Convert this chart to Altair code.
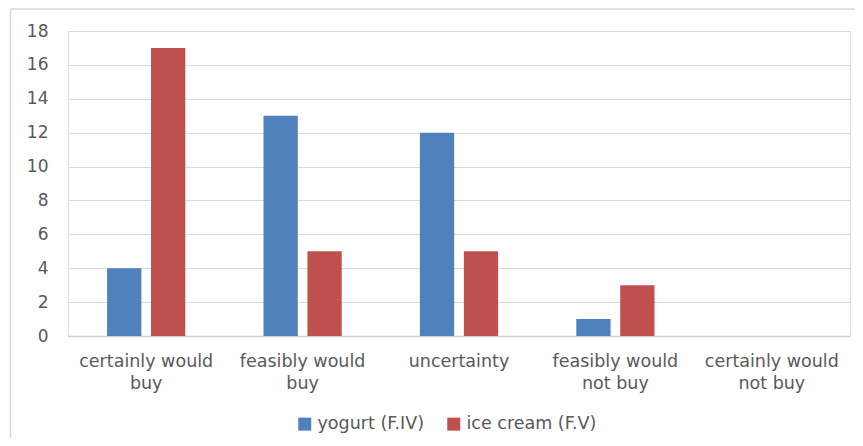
import altair as alt
import pandas as pd

categories = ["certainly would buy", "feasibly would buy", "uncertainty",
              "feasibly would not buy", "certainly would not buy"]
wrapped = [["certainly would", "buy"], ["feasibly would", "buy"], ["uncertainty"],
           ["feasibly would", "not buy"], ["certainly would", "not buy"]]
series = ["yogurt (F.IV)", "ice cream (F.V)"]
yogurt = [4, 13, 12, 1, 0]
ice_cream = [17, 5, 5, 3, 0]
colors = ["#4f81bd", "#c0504d"]

rows = []
for c, a, b in zip(categories, yogurt, ice_cream):
    rows.append({"category": c, "series": series[0], "value": a})
    rows.append({"category": c, "series": series[1], "value": b})
df = pd.DataFrame(rows)

label_map = "{" + ",".join(
    "'%s': [%s]" % (c, ",".join("'%s'" % p for p in w)) for c, w in zip(categories, wrapped)
) + "}"

FONT = "DejaVu Sans"
TXT = "#595959"

bars = alt.Chart(df).mark_bar().encode(
    x=alt.X("category:N", sort=categories,
            scale=alt.Scale(paddingInner=0.5, paddingOuter=0.25),
            axis=alt.Axis(title=None, labelAngle=0, ticks=False, domain=True,
                          domainColor="#d0d0d0", domainWidth=1.5,
                          labelExpr=label_map + "[datum.value]",
                          labelFont=FONT, labelFontSize=17.5, labelColor=TXT,
                          labelPadding=16, labelLineHeight=22, labelBaseline="top")),
    xOffset=alt.XOffset("series:N", sort=series,
                        scale=alt.Scale(paddingInner=0.22, paddingOuter=0)),
    y=alt.Y("value:Q", scale=alt.Scale(domain=[0, 18]),
            axis=alt.Axis(title=None, values=list(range(0, 19, 2)), ticks=False,
                          domain=False, grid=True, gridColor="#d9d9d9", gridWidth=1,
                          labelFont=FONT, labelFontSize=17, labelColor=TXT,
                          labelPadding=20)),
    color=alt.Color("series:N", sort=series,
                    scale=alt.Scale(domain=series, range=colors),
                    legend=alt.Legend(title=None, orient="none", direction="horizontal",
                                      legendX=228, legendY=384,
                                      symbolType="square", symbolSize=169,
                                      symbolStrokeWidth=0,
                                      labelFont=FONT, labelFontSize=17.5, labelColor=TXT,
                                      columnPadding=21, labelOffset=4)),
)

edge = pd.DataFrame({"a": [0]})
top_border = alt.Chart(edge).mark_rule(color="#d9d9d9", strokeWidth=1.5, clip=False).encode(
    x=alt.value(-57.5), x2=alt.value(900), y=alt.value(-22)
)
left_border = alt.Chart(edge).mark_rule(color="#d9d9d9", strokeWidth=1.5, clip=False).encode(
    x=alt.value(-57.5), y=alt.value(-22), y2=alt.value(450)
)

chart = alt.layer(top_border, left_border, bars).properties(
    width=782, height=305,
    autosize=alt.AutoSizeParams(type="none"),
    padding={"left": 60, "top": 23, "right": 5, "bottom": 102},
).configure_view(stroke=None).configure(background="white")

chart.save("out.html", embed_options={"renderer": "svg", "actions": False})
